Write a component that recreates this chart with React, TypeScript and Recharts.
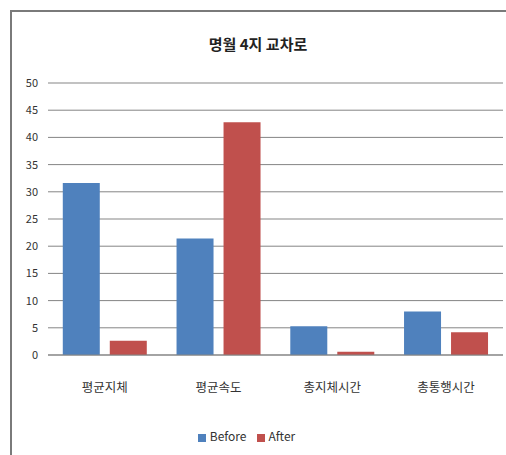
import { BarChart, Bar, XAxis, YAxis, CartesianGrid, Legend } from 'recharts';

const categories = ['평균지체', '평균속도', '총지체시간', '총통행시간'];
const beforeValues = [31.6, 21.4, 5.3, 8.0];
const afterValues = [2.6, 42.8, 0.6, 4.2];
const yTicks = [0, 5, 10, 15, 20, 25, 30, 35, 40, 45, 50];
const seriesOrder = ['Before', 'After'];

const data = categories.map((name, i) => ({
  name,
  Before: beforeValues[i],
  After: afterValues[i],
}));

const font = '"Noto Sans CJK KR", "Noto Sans", sans-serif';

export default function App() {
  return (
    <div
      style={{
        position: 'absolute',
        left: 0,
        top: 0,
        width: 506,
        height: 455,
        overflow: 'hidden',
        background: '#fff',
        fontFamily: font,
      }}
    >
      {/* chart frame, cut off at right and bottom like the source image */}
      <div
        style={{
          position: 'absolute',
          left: 10,
          top: 10,
          width: 520,
          height: 480,
          border: '2px solid #7a7a7a',
          boxSizing: 'border-box',
        }}
      />
      <div
        style={{
          position: 'absolute',
          top: 33,
          left: 0,
          width: 516,
          textAlign: 'center',
          fontSize: 15,
          fontWeight: 'bold',
          color: '#222',
        }}
      >
        명월 4지 교차로
      </div>
      <div style={{ position: 'absolute', left: 0, top: 0 }}>
        <BarChart
          width={506}
          height={455}
          data={data}
          margin={{ top: 83, right: 3, bottom: 43, left: 0 }}
          barGap={10}
          barCategoryGap="13%"
        >
          <CartesianGrid vertical={false} stroke="#858585" strokeWidth={1} />
          <XAxis
            dataKey="name"
            height={40}
            tickLine={false}
            axisLine={{ stroke: '#858585' }}
            tickMargin={22}
            tick={{ fontSize: 12.5, fill: '#333', fontFamily: font }}
            interval={0}
          />
          <YAxis
            width={48}
            domain={[0, 50]}
            ticks={yTicks}
            tickLine={false}
            axisLine={false}
            tickMargin={4}
            tick={{ fontSize: 11, fill: '#333', fontFamily: font }}
            interval={0}
          />
          <Legend
            iconType="square"
            iconSize={8}
            itemSorter={(item: { value?: string }) => seriesOrder.indexOf(String(item.value))}
            wrapperStyle={{ top: 427, fontSize: 12, fontFamily: font }}
            formatter={(value: string) => <span style={{ color: '#333' }}>{value}</span>}
          />
          <Bar dataKey="Before" fill="#4F81BD" isAnimationActive={false} />
          <Bar dataKey="After" fill="#C0504D" isAnimationActive={false} />
        </BarChart>
      </div>
    </div>
  );
}
